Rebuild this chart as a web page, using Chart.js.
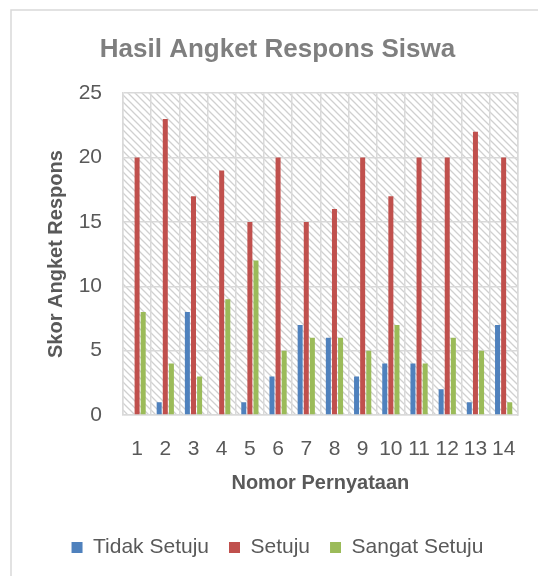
<!DOCTYPE html>
<html>
<head>
<meta charset="utf-8">
<script src="https://cdn.jsdelivr.net/npm/chart.js@4"></script>
<style>
    body { margin: 0; background: #fff; }
    #wrap { width: 538px; height: 576px; }
</style>
</head>
<body>
<div id="wrap"><canvas id="chart" width="538" height="576"></canvas></div>
<script>
const categories = ['1','2','3','4','5','6','7','8','9','10','11','12','13','14'];
const tidakSetuju = [0, 1, 8, 0, 1, 3, 7, 6, 3, 4, 4, 2, 1, 7];
const setuju = [20, 23, 17, 19, 15, 20, 15, 16, 20, 17, 20, 20, 22, 20];
const sangatSetuju = [8, 4, 3, 9, 12, 5, 6, 6, 5, 7, 4, 6, 5, 1];
const yTicks = [0, 5, 10, 15, 20, 25];

const FONT = "'Liberation Sans', Arial, sans-serif";
const GRAY = '#595959';
const LINE = '#d9d9d9';

// hatch pattern for the plot background
function makeHatch() {
    const c = document.createElement('canvas');
    c.width = 7; c.height = 7;
    const g = c.getContext('2d');
    g.fillStyle = '#fff';
    g.fillRect(0, 0, 7, 7);
    g.strokeStyle = '#d0d0d0';
    g.lineWidth = 1.3;
    g.beginPath();
    g.moveTo(-2, -2); g.lineTo(9, 9);
    g.moveTo(-2, 5); g.lineTo(2, 9);
    g.moveTo(5, -2); g.lineTo(9, 2);
    g.stroke();
    return g.createPattern(c, 'repeat');
}

const backdrop = {
    id: 'backdrop',
    beforeDraw(chart) {
        const { ctx, chartArea: a } = chart;
        ctx.save();
        ctx.fillStyle = '#fff';
        ctx.fillRect(0, 0, chart.width, chart.height);
        ctx.strokeStyle = LINE;
        ctx.lineWidth = 1.5;
        ctx.beginPath();
        ctx.moveTo(11, chart.height);
        ctx.lineTo(11, 10);
        ctx.lineTo(chart.width, 10);
        ctx.stroke();
        ctx.fillStyle = makeHatch();
        ctx.fillRect(a.left, a.top, a.right - a.left, a.bottom - a.top);
        ctx.restore();
    }
};

new Chart(document.getElementById('chart'), {
    type: 'bar',
    data: {
        labels: categories,
        datasets: [
            { label: 'Tidak Setuju', data: tidakSetuju, backgroundColor: '#4f81bd' },
            { label: 'Setuju', data: setuju, backgroundColor: '#c0504d' },
            { label: 'Sangat Setuju', data: sangatSetuju, backgroundColor: '#9bbb59' }
        ]
    },
    options: {
        responsive: false,
        animation: false,
        categoryPercentage: 0.65,
        barPercentage: 0.82,
        layout: { padding: { left: 17, right: 0, top: 10, bottom: 8 } },
        plugins: {
            title: {
                display: true,
                text: 'Hasil Angket Respons Siswa',
                color: '#7f7f7f',
                font: { family: FONT, size: 26, weight: 'bold' },
                padding: { top: 24, bottom: 28 }
            },
            legend: {
                position: 'bottom',
                labels: {
                    color: GRAY,
                    font: { family: FONT, size: 21 },
                    boxWidth: 11,
                    boxHeight: 11,
                    padding: 20
                }
            },
            tooltip: { enabled: false }
        },
        scales: {
            x: {
                grid: { color: LINE, lineWidth: 1.5, drawTicks: false, offset: true },
                border: { color: LINE, width: 1.5 },
                ticks: { color: GRAY, font: { family: FONT, size: 21 }, padding: 22, maxRotation: 0, autoSkip: false },
                title: {
                    display: true,
                    text: 'Nomor Pernyataan',
                    color: GRAY,
                    font: { family: FONT, size: 20, weight: 'bold' },
                    padding: { top: 0, bottom: 22 }
                },
                afterFit: s => { s.height = 102; }
            },
            y: {
                min: 0,
                max: 25,
                grid: { color: LINE, lineWidth: 1.5, drawTicks: false },
                border: { color: LINE, width: 1.5 },
                afterBuildTicks: s => { s.ticks = yTicks.map(v => ({ value: v })); },
                ticks: { color: GRAY, font: { family: FONT, size: 21 }, padding: 21 },
                title: {
                    display: true,
                    text: 'Skor Angket Respons',
                    color: GRAY,
                    font: { family: FONT, size: 20, weight: 'bold' },
                    padding: { top: 27, bottom: 0 }
                },
                afterFit: s => { s.width = 106; }
            },
            y2: {
                position: 'right',
                display: true,
                grid: { display: false, drawTicks: false },
                border: { display: true, color: LINE, width: 1.5 },
                ticks: { display: false },
                afterFit: s => { s.width = 19; }
            }
        }
    },
    plugins: [backdrop]
});
</script>
</body>
</html>
